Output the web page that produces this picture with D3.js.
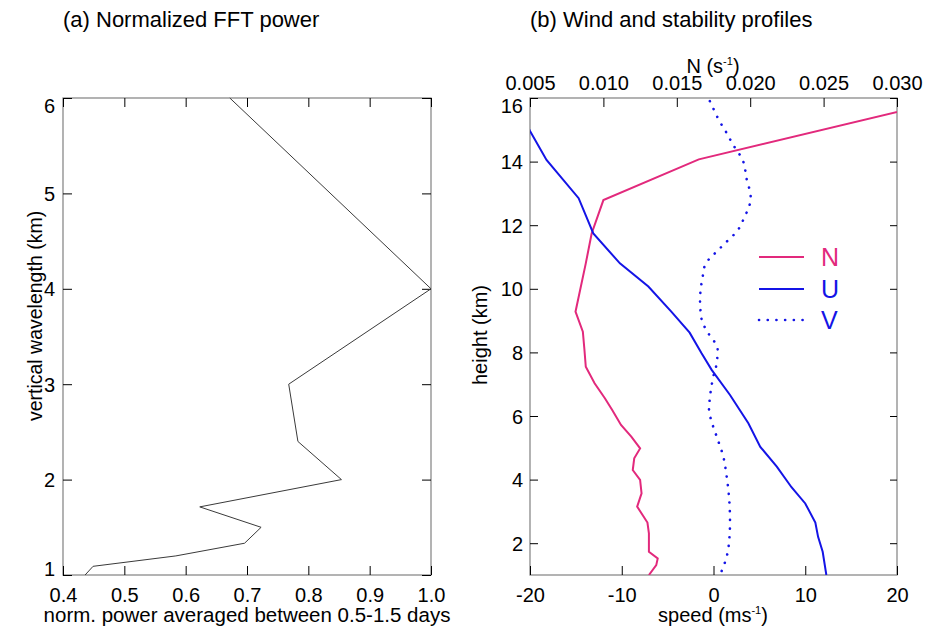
<!DOCTYPE html>
<html>
<head>
<meta charset="utf-8">
<script src="https://cdn.jsdelivr.net/npm/d3@7"></script>
<style>
  body { margin: 0; background: #fff; }
  svg { font-family: "Liberation Sans", Arial, Helvetica, sans-serif; }
  .frame { fill: none; stroke: #8a8a8a; stroke-width: 1.3; }
  .axis line { stroke: #000; stroke-width: 1; }
  .axis text { font-family: "Liberation Sans", Arial, sans-serif; font-size: 20px; fill: #000; }
</style>
</head>
<body>
<svg id="chart" width="934" height="629"></svg>
<script>
// (a) normalized FFT power vs vertical wavelength
const wavelength = [6, 4, 3, 2.4, 2, 1.714, 1.5, 1.333, 1.2, 1.091, 1.0];
const power = [0.672, 1.0, 0.768, 0.783, 0.854, 0.623, 0.723, 0.696, 0.584, 0.449, 0.436];
const powerTicks = [0.4, 0.5, 0.6, 0.7, 0.8, 0.9, 1.0];
const wavelengthTicks = [1, 2, 3, 4, 5, 6];

// (b) N profile (top axis) and U, V wind (bottom axis)
const nHeight = [16, 14.07, 12.79, 11.74, 10.8, 9.28, 8.65, 8.13, 7.55, 7.03, 6.56, 6.19, 5.72, 5.35, 4.98, 4.67, 4.30, 3.99, 3.57, 3.15, 2.65, 2.31, 1.73, 1.52, 1.31, 1.0];
const nValue = [0.034, 0.0165, 0.0100, 0.0092, 0.0088, 0.0081, 0.0086, 0.0087, 0.0088, 0.0094, 0.0101, 0.0106, 0.0112, 0.0119, 0.0125, 0.0121, 0.0120, 0.0125, 0.0126, 0.0123, 0.0130, 0.0131, 0.0131, 0.0137, 0.0136, 0.0131];

const uHeight = [15.3, 14.96, 14.05, 12.85, 11.74, 10.80, 10.07, 9.28, 8.62, 7.97, 7.45, 6.66, 5.77, 5.03, 4.41, 3.76, 3.25, 2.65, 2.2, 1.73, 1.0];
const uValue = [-20.6, -20, -18.2, -14.7, -13.1, -10.2, -7.1, -4.6, -2.6, -1.3, -0.2, 1.8, 3.8, 5.1, 6.9, 8.5, 10.0, 11.1, 11.4, 11.9, 12.3];

const vHeight = [15.9, 15.78, 15.25, 14.99, 14.52, 14.05, 13.44, 12.9, 12.6, 12.29, 11.8, 11.43, 11.01, 10.80, 10.38, 9.65, 9.02, 8.6, 8.1, 7.66, 7.24, 6.61, 6.19, 5.82, 5.35, 4.72, 4.09, 3.3, 2.68, 2.15, 1.58, 1.0];
const vValue = [-0.4, -0.2, 0.7, 1.25, 2.16, 3.18, 3.62, 4.05, 3.9, 3.43, 2.53, 1.25, -0.2, -0.86, -1.18, -1.47, -1.29, -0.55, 0.45, 0.35, -0.02, -0.38, -0.49, -0.2, 0.35, 1.07, 1.44, 1.73, 1.8, 1.73, 1.44, 0.71];

const speedTicks = [-20, -10, 0, 10, 20];
const nTicks = [0.005, 0.010, 0.015, 0.020, 0.025, 0.030];
const heightTicks = [2, 4, 6, 8, 10, 12, 14, 16];

const pink = '#e2297c';
const blue = '#1414e6';

const svg = d3.select('#chart');

// fix the label of the top / bottom tick so it stays inside the frame height
function clampLeftLabels(g, scale) {
    const [lo, hi] = scale.domain();
    g.selectAll('.tick text')
        .attr('dy', d => d === hi ? '0.74em' : (d === lo ? '0em' : '0.35em'));
}

function frame(g, x, y) {
    g.append('rect')
        .attr('class', 'frame')
        .attr('x', x.range()[0])
        .attr('y', y.range()[1])
        .attr('width', x.range()[1] - x.range()[0])
        .attr('height', y.range()[0] - y.range()[1]);
}

// ---------- panel (a) ----------
const xa = d3.scaleLinear().domain([0.4, 1.0]).range([63, 431]);
const ya = d3.scaleLinear().domain([1, 6]).range([575, 98]);
const ga = svg.append('g');

frame(ga, xa, ya);

ga.append('g').attr('class', 'axis')
    .attr('transform', `translate(0,${ya.range()[0]})`)
    .call(d3.axisBottom(xa).tickValues(powerTicks).tickFormat(d3.format('.1f')).tickSize(-9).tickPadding(13))
    .call(g => g.select('.domain').remove());
ga.append('g').attr('class', 'axis')
    .attr('transform', `translate(0,${ya.range()[1]})`)
    .call(d3.axisTop(xa).tickValues(powerTicks).tickFormat('').tickSize(-9))
    .call(g => g.select('.domain').remove());
ga.append('g').attr('class', 'axis')
    .attr('transform', `translate(${xa.range()[0]},0)`)
    .call(d3.axisLeft(ya).tickValues(wavelengthTicks).tickFormat(d => String(d)).tickSize(-9).tickPadding(8))
    .call(g => g.select('.domain').remove())
    .call(g => clampLeftLabels(g, ya));
ga.append('g').attr('class', 'axis')
    .attr('transform', `translate(${xa.range()[1]},0)`)
    .call(d3.axisRight(ya).tickValues(wavelengthTicks).tickFormat('').tickSize(-9))
    .call(g => g.select('.domain').remove());

const lineA = d3.line()
    .x(i => xa(power[i]))
    .y(i => ya(wavelength[i]));
ga.append('path')
    .attr('d', lineA(d3.range(wavelength.length)))
    .attr('fill', 'none')
    .attr('stroke', '#3a3a3a')
    .attr('stroke-width', 1);

ga.append('text')
    .attr('x', 63).attr('y', 27)
    .attr('font-size', 22)
    .text('(a) Normalized FFT power');
ga.append('text')
    .attr('x', 247).attr('y', 622)
    .attr('text-anchor', 'middle')
    .attr('font-size', 20.5)
    .text('norm. power averaged between 0.5-1.5 days');
ga.append('text')
    .attr('transform', 'translate(42,316) rotate(-90)')
    .attr('text-anchor', 'middle')
    .attr('font-size', 19.5)
    .text('vertical wavelength (km)');

// ---------- panel (b) ----------
const xs = d3.scaleLinear().domain([-20, 20]).range([530, 897]);
const xn = d3.scaleLinear().domain([0.005, 0.030]).range([530, 897]);
const yb = d3.scaleLinear().domain([1, 16]).range([575, 98]);
const gb = svg.append('g');

gb.append('clipPath').attr('id', 'clipb')
    .append('rect')
    .attr('x', xs.range()[0]).attr('y', yb.range()[1])
    .attr('width', xs.range()[1] - xs.range()[0])
    .attr('height', yb.range()[0] - yb.range()[1]);

frame(gb, xs, yb);

gb.append('g').attr('class', 'axis')
    .attr('transform', `translate(0,${yb.range()[0]})`)
    .call(d3.axisBottom(xs).tickValues(speedTicks).tickFormat(d => String(d)).tickSize(-9).tickPadding(13))
    .call(g => g.select('.domain').remove());
gb.append('g').attr('class', 'axis')
    .attr('transform', `translate(0,${yb.range()[1]})`)
    .call(d3.axisTop(xn).tickValues(nTicks).tickFormat(d3.format('.3f')).tickSize(-9).tickPadding(8))
    .call(g => g.select('.domain').remove());
gb.append('g').attr('class', 'axis')
    .attr('transform', `translate(${xs.range()[0]},0)`)
    .call(d3.axisLeft(yb).tickValues(heightTicks).tickFormat(d => String(d)).tickSize(-8).tickPadding(7))
    .call(g => g.select('.domain').remove())
    .call(g => clampLeftLabels(g, yb));
gb.append('g').attr('class', 'axis')
    .attr('transform', `translate(${xs.range()[1]},0)`)
    .call(d3.axisRight(yb).tickValues(heightTicks).tickFormat('').tickSize(-7))
    .call(g => g.select('.domain').remove());

const plot = gb.append('g').attr('clip-path', 'url(#clipb)');

plot.append('path')
    .attr('d', d3.line().x(i => xn(nValue[i])).y(i => yb(nHeight[i]))(d3.range(nHeight.length)))
    .attr('fill', 'none').attr('stroke', pink).attr('stroke-width', 2);
plot.append('path')
    .attr('d', d3.line().x(i => xs(uValue[i])).y(i => yb(uHeight[i]))(d3.range(uHeight.length)))
    .attr('fill', 'none').attr('stroke', blue).attr('stroke-width', 2);
plot.append('path')
    .attr('d', d3.line().curve(d3.curveMonotoneY).x(i => xs(vValue[i])).y(i => yb(vHeight[i]))(d3.range(vHeight.length)))
    .attr('fill', 'none').attr('stroke', blue).attr('stroke-width', 2.6)
    .attr('stroke-linecap', 'round').attr('stroke-dasharray', '0.1,8.6');

// legend
const legend = [
    {name: 'N', color: pink, dash: null, y: 257},
    {name: 'U', color: blue, dash: null, y: 289},
    {name: 'V', color: blue, dash: '0.1,8.6', y: 320}
];
const lg = gb.selectAll('.legend').data(legend).join('g').attr('class', 'legend');
lg.append('line')
    .attr('x1', 759).attr('x2', 804)
    .attr('y1', d => d.y).attr('y2', d => d.y)
    .attr('stroke', d => d.color)
    .attr('stroke-width', d => d.dash ? 2.6 : 2)
    .attr('stroke-linecap', d => d.dash ? 'round' : 'butt')
    .attr('stroke-dasharray', d => d.dash);
lg.append('text')
    .attr('x', 821).attr('y', d => d.y + 9)
    .attr('font-size', 25)
    .attr('fill', d => d.color)
    .text(d => d.name);

gb.append('text')
    .attr('x', 530).attr('y', 27)
    .attr('font-size', 22)
    .text('(b) Wind and stability profiles');

const nLabel = gb.append('text')
    .attr('x', 713).attr('y', 73)
    .attr('text-anchor', 'middle')
    .attr('font-size', 20);
nLabel.append('tspan').text('N (s');
nLabel.append('tspan').attr('font-size', 11).attr('dy', -8).text('-1');
nLabel.append('tspan').attr('dy', 8).text(')');

const sLabel = gb.append('text')
    .attr('x', 713).attr('y', 622)
    .attr('text-anchor', 'middle')
    .attr('font-size', 20);
sLabel.append('tspan').text('speed (ms');
sLabel.append('tspan').attr('font-size', 11).attr('dy', -8).text('-1');
sLabel.append('tspan').attr('dy', 8).text(')');

gb.append('text')
    .attr('transform', 'translate(487,335) rotate(-90)')
    .attr('text-anchor', 'middle')
    .attr('font-size', 20)
    .text('height (km)');
</script>
</body>
</html>
